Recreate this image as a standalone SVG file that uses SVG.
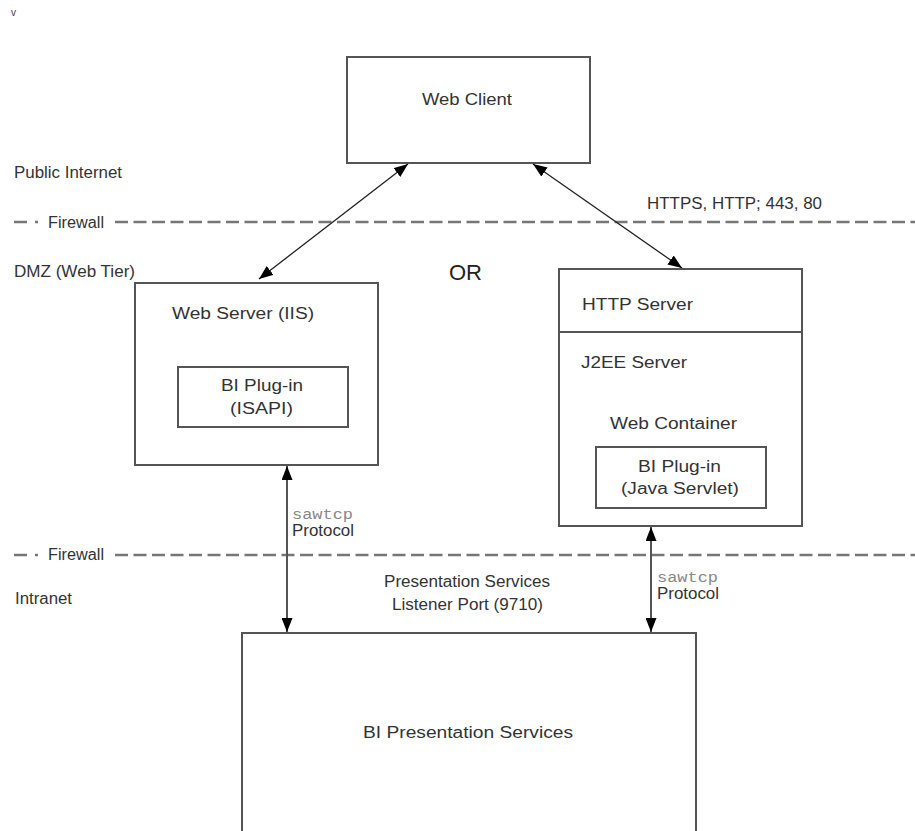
<svg xmlns="http://www.w3.org/2000/svg" width="915" height="831" viewBox="0 0 915 831">
<style>
.t{font-family:"Liberation Sans",Arial,sans-serif;font-size:16px;fill:#333}
.m{font-family:"Liberation Mono","Courier New",monospace;font-size:14px;fill:#888}
.box{fill:#fff;stroke:#555;stroke-width:2}
.fw{stroke:#777;stroke-width:2.5;fill:none}
.c{stroke:#222;stroke-width:1.3;fill:none}
.v{stroke:#555;stroke-width:2;fill:none}
</style>
<defs>
<marker id="ah" viewBox="0 0 14 11" refX="14" refY="5.5" markerWidth="14" markerHeight="11" markerUnits="userSpaceOnUse" orient="auto-start-reverse">
<path d="M0,0 L14,5.5 L0,11 Z" fill="#000"/>
</marker>
</defs>
<rect width="915" height="831" fill="#fff"/>
<text x="11" y="16" style="font-family:'Liberation Sans',sans-serif;font-size:10px;fill:#444">v</text>
<g id="zones">
<text class="t" x="14" y="178" textLength="108" lengthAdjust="spacingAndGlyphs">Public Internet</text>
<text class="t" x="14" y="277" textLength="121" lengthAdjust="spacingAndGlyphs">DMZ (Web Tier)</text>
<text class="t" x="15" y="604" textLength="57" lengthAdjust="spacingAndGlyphs">Intranet</text>
</g>
<g id="firewall1">
<line class="fw" x1="14" y1="222" x2="27" y2="222"/>
<line class="fw" x1="35" y1="222" x2="38" y2="222"/>
<text class="t" x="48" y="228" textLength="56" lengthAdjust="spacingAndGlyphs">Firewall</text>
<line class="fw" x1="115" y1="222" x2="915" y2="222" stroke-dasharray="13 5.5"/>
</g>
<g id="firewall2">
<line class="fw" x1="14" y1="555" x2="27" y2="555"/>
<line class="fw" x1="35" y1="555" x2="38" y2="555"/>
<text class="t" x="48" y="560" textLength="56" lengthAdjust="spacingAndGlyphs">Firewall</text>
<line class="fw" x1="115" y1="555" x2="915" y2="555" stroke-dasharray="13 5.5"/>
</g>
<g id="web-client">
<rect class="box" x="347" y="57" width="243" height="106"/>
<text class="t" x="422" y="105" textLength="90" lengthAdjust="spacingAndGlyphs">Web Client</text>
</g>
<g id="web-server-iis">
<rect class="box" x="135" y="283" width="243" height="182"/>
<text class="t" x="172" y="319" textLength="142" lengthAdjust="spacingAndGlyphs">Web Server (IIS)</text>
</g>
<g id="bi-plugin-isapi">
<rect class="box" x="178" y="367" width="170" height="60"/>
<text class="t" x="221" y="391" textLength="82" lengthAdjust="spacingAndGlyphs">BI Plug-in</text>
<text class="t" x="230" y="414" textLength="63" lengthAdjust="spacingAndGlyphs">(ISAPI)</text>
</g>
<g id="or-label">
<text x="449" y="280" style="font-family:'Liberation Sans',Arial,sans-serif;font-size:22px;fill:#222">OR</text>
</g>
<g id="http-j2ee-server">
<rect class="box" x="559" y="269" width="243" height="257"/>
<line class="box" x1="559" y1="332" x2="802" y2="332"/>
<text class="t" x="582" y="310" textLength="111" lengthAdjust="spacingAndGlyphs">HTTP Server</text>
<text class="t" x="581" y="368" textLength="106" lengthAdjust="spacingAndGlyphs">J2EE Server</text>
<text class="t" x="610" y="429" textLength="127" lengthAdjust="spacingAndGlyphs">Web Container</text>
</g>
<g id="bi-plugin-servlet">
<rect class="box" x="596" y="447" width="170" height="61"/>
<text class="t" x="638" y="472" textLength="83" lengthAdjust="spacingAndGlyphs">BI Plug-in</text>
<text class="t" x="621" y="494" textLength="118" lengthAdjust="spacingAndGlyphs">(Java Servlet)</text>
</g>
<g id="bi-presentation-services">
<path class="box" d="M242,840 L242,633 L696,633 L696,840"/>
<text class="t" x="363" y="738" textLength="210" lengthAdjust="spacingAndGlyphs">BI Presentation Services</text>
</g>
<g id="connectors">
<line class="c" x1="259" y1="279" x2="408" y2="164" marker-start="url(#ah)" marker-end="url(#ah)"/>
<line class="c" x1="533" y1="164" x2="682" y2="268" marker-start="url(#ah)" marker-end="url(#ah)"/>
<line class="v" x1="287" y1="466" x2="287" y2="632" marker-start="url(#ah)" marker-end="url(#ah)"/>
<line class="v" x1="651" y1="527" x2="651" y2="632" marker-start="url(#ah)" marker-end="url(#ah)"/>
</g>
<g id="labels">
<text class="t" x="647" y="209" textLength="175" lengthAdjust="spacingAndGlyphs">HTTPS, HTTP; 443, 80</text>
<text class="m" x="292" y="519" textLength="61" lengthAdjust="spacingAndGlyphs">sawtcp</text>
<text class="t" x="292" y="536" textLength="62" lengthAdjust="spacingAndGlyphs">Protocol</text>
<text class="m" x="657" y="582" textLength="61" lengthAdjust="spacingAndGlyphs">sawtcp</text>
<text class="t" x="657" y="599" textLength="62" lengthAdjust="spacingAndGlyphs">Protocol</text>
<text class="t" x="384" y="587" textLength="166" lengthAdjust="spacingAndGlyphs">Presentation Services</text>
<text class="t" x="392" y="610" textLength="151" lengthAdjust="spacingAndGlyphs">Listener Port (9710)</text>
</g>
</svg>
